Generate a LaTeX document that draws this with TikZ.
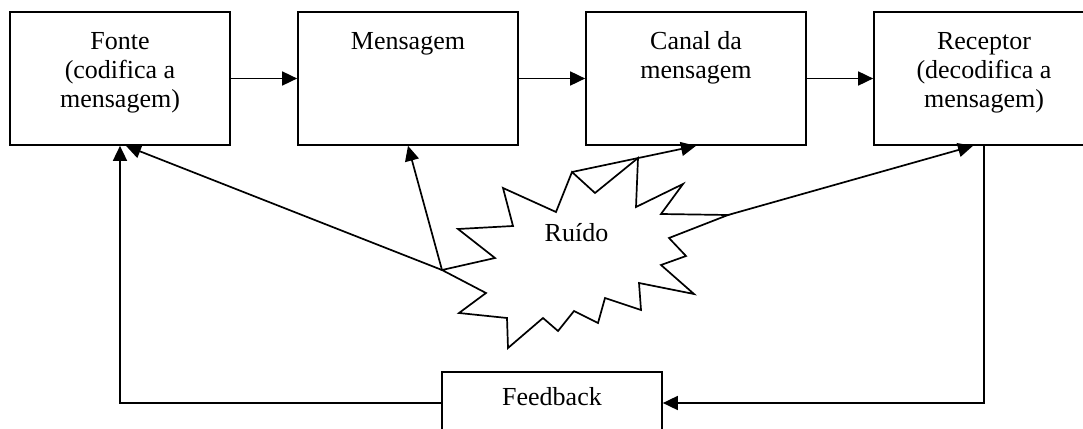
\documentclass[tikz,border=0pt]{standalone}
\usepackage{fontspec}
\setmainfont{Liberation Serif}
\usetikzlibrary{arrows.meta,calc}
\begin{document}
\begin{tikzpicture}[x=1pt,y=-1pt,
  box/.style={draw,line width=1.7pt,minimum width=220pt,minimum height=133pt,inner sep=0pt},
  lbl/.style={font=\fontsize{26}{29}\selectfont,align=center,anchor=base,inner sep=0pt},
  conn/.style={line width=1.7pt,-{Triangle[length=15pt,width=14pt]}},
  plain/.style={line width=1.7pt,line join=miter},
]
\useasboundingbox (0,0) rectangle (1083,428);
\clip (0,0) rectangle (1083,428);
% boxes
\node[box] (fonte) at (120,78.5) {};
\node[box] (mensagem) at (408,78.5) {};
\node[box] (canal) at (696,78.5) {};
\node[box] (receptor) at (984,78.5) {};
\node[box,minimum height=62pt,font=\fontsize{26}{29}\selectfont,text height=0.72em,text depth=0.2em] (feedback) at (552,403) {Feedback};
% labels (anchor base = baseline of last line)
\node[lbl] (fonteT) at (120,107.3) {Fonte\\(codifica a\\mensagem)};
\node[lbl] (mensagemT) at (408,49.3) {Mensagem};
\node[lbl] (canalT) at (696,78.3) {Canal da\\mensagem};
\node[lbl] (receptorT) at (984,107.3) {Receptor\\(decodifica a\\mensagem)};
% noise star
\coordinate (n0) at (442,270);
\coordinate (n6) at (572,172);
\coordinate (n12) at (728,215);
\draw[plain,fill=white] (n0) -- (495,258) -- (458,229) -- (513,226) -- (503,188) -- (556,212)
  -- (n6) -- (595,193) -- (638,158) -- (636,207) -- (683,184) -- (661,214) -- (n12)
  -- (669,238) -- (686,256) -- (661,265) -- (694,294) -- (639,283) -- (641,310) -- (605,298)
  -- (598,323) -- (574,311) -- (558,331) -- (543,318) -- (508,348) -- (507,318) -- (459,313)
  -- (486,293) -- cycle;
\node[lbl] (ruido) at (576.5,241) {Ruído};
% main flow
\draw[conn] (fonte) -- (mensagem);
\draw[conn] (mensagem) -- (canal);
\draw[conn] (canal) -- (receptor);
% feedback loop
\draw[conn] (receptor.south) |- (feedback.east);
\draw[conn] (feedback.west) -| (fonte.south);
% noise arrows
\draw[conn] (n0) -- ([xshift=6pt]fonte.south);
\draw[conn] (n0) -- (mensagem.south);
\draw[conn] (n6) -- (canal.south);
\draw[conn] (n12) -- ([xshift=-11pt]receptor.south);
\end{tikzpicture}
\end{document}
